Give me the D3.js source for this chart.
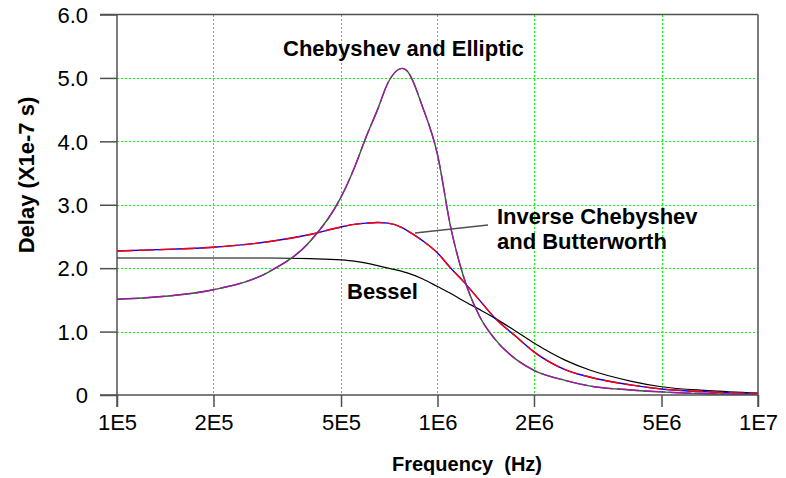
<!DOCTYPE html>
<html>
<head>
<meta charset="utf-8">
<script src="https://cdn.jsdelivr.net/npm/d3@7"></script>
<style>
body { margin: 0; background: #fff; }
svg { display: block; }
text { font-family: "Liberation Sans", Arial, sans-serif; fill: #000; }
</style>
</head>
<body>
<svg width="786" height="478"></svg>
<script>
// frequencies (Hz) shared by all curves
var freqs = [1e5, 1.5e5, 2e5, 3e5, 4e5, 5e5, 5.5e5, 6e5, 6.5e5, 7e5, 7.75e5, 8e5, 9e5, 1e6,
             1.1e6, 1.2e6, 1.35e6, 1.5e6, 1.75e6, 2e6, 2.5e6, 3e6, 4e6, 5e6, 7e6, 1e7];

// delay in units of 1e-7 s
var chebyshev = [1.51, 1.57, 1.66, 1.95, 2.42, 3.12, 3.58, 4.08, 4.50, 4.92, 5.15, 5.12, 4.53, 3.79,
                 2.64, 1.90, 1.25, 0.90, 0.57, 0.39, 0.23, 0.14, 0.08, 0.05, 0.02, 0.01];
var elliptic = [1.51, 1.57, 1.66, 1.95, 2.42, 3.12, 3.58, 4.08, 4.50, 4.92, 5.15, 5.12, 4.53, 3.79,
                2.64, 1.90, 1.25, 0.90, 0.57, 0.39, 0.23, 0.14, 0.08, 0.05, 0.02, 0.01];
var invChebyshev = [2.27, 2.30, 2.33, 2.42, 2.53, 2.65, 2.69, 2.71, 2.72, 2.71, 2.64, 2.60, 2.43, 2.24,
                    2.00, 1.80, 1.50, 1.23, 0.93, 0.68, 0.40, 0.28, 0.16, 0.095, 0.05, 0.025];
var butterworth = [2.27, 2.30, 2.33, 2.42, 2.53, 2.65, 2.69, 2.71, 2.72, 2.71, 2.64, 2.60, 2.43, 2.24,
                   2.00, 1.80, 1.50, 1.23, 0.93, 0.68, 0.40, 0.28, 0.16, 0.095, 0.05, 0.025];
var bessel = [2.16, 2.16, 2.16, 2.16, 2.15, 2.13, 2.11, 2.08, 2.04, 2.00, 1.95, 1.93, 1.83, 1.71,
              1.60, 1.49, 1.35, 1.22, 1.01, 0.82, 0.55, 0.39, 0.22, 0.13, 0.07, 0.03];

var xTicks = [1e5, 2e5, 5e5, 1e6, 2e6, 5e6, 1e7];
var xTickLabels = ["1E5", "2E5", "5E5", "1E6", "2E6", "5E6", "1E7"];
var yTicks = [0, 1, 2, 3, 4, 5, 6];
var yTickLabels = ["0", "1.0", "2.0", "3.0", "4.0", "5.0", "6.0"];

var svg = d3.select("svg"),
	plotL = 117, plotR = 758, plotT = 14.5, plotB = 395;

var x = d3.scaleLog().domain([1e5, 1e7]).range([plotL, plotR]),
	y = d3.scaleLinear().domain([0, 6]).range([plotB, plotT]);

/* grid: bright green dots */
var grid = svg.append("g")
	.attr("stroke", "#00ff00")
	.attr("stroke-width", 1)
	.attr("shape-rendering", "crispEdges")
	.attr("stroke-dasharray", "2,2");
grid.selectAll(".gx")
	.data(xTicks.slice(1, -1))
	.enter().append("line")
	.attr("x1", function(d) { return Math.round(x(d)) + 0.5; })
	.attr("x2", function(d) { return Math.round(x(d)) + 0.5; })
	.attr("y1", plotT).attr("y2", plotB);
grid.selectAll(".gy")
	.data(yTicks.slice(1, -1))
	.enter().append("line")
	.attr("y1", function(d) { return Math.round(y(d)) + 0.5; })
	.attr("y2", function(d) { return Math.round(y(d)) + 0.5; })
	.attr("x1", plotL).attr("x2", plotR);

/* curves */
var line = d3.line()
	.x(function(d, i) { return x(freqs[i]); })
	.y(function(d) { return y(d); })
	.curve(d3.curveMonotoneX);

var plot = svg.append("g").attr("fill", "none");
plot.append("path").attr("d", line(bessel))
	.attr("stroke", "#000").attr("stroke-width", 1.2);
plot.append("path").attr("d", line(butterworth))
	.attr("stroke", "#0000ff").attr("stroke-width", 1.4);
plot.append("path").attr("d", line(invChebyshev))
	.attr("stroke", "#ff0000").attr("stroke-width", 1.4)
	.attr("stroke-dasharray", "16,5");
plot.append("path").attr("d", line(elliptic))
	.attr("stroke", "#1e6b1e").attr("stroke-width", 1.4);
plot.append("path").attr("d", line(chebyshev))
	.attr("stroke", "#a01aa8").attr("stroke-width", 1.4)
	.attr("stroke-dasharray", "22,4");

/* frame and axes */
var axisColor = "#505050";
var frame = svg.append("g").attr("stroke", axisColor).attr("stroke-width", 1.5).attr("fill", "none");
frame.append("line").attr("x1", 100).attr("x2", plotR).attr("y1", plotT).attr("y2", plotT);
frame.append("line").attr("x1", 100).attr("x2", plotR).attr("y1", plotB).attr("y2", plotB);
frame.append("line").attr("x1", plotL).attr("x2", plotL).attr("y1", plotT).attr("y2", plotB + 12);
frame.append("line").attr("x1", plotR).attr("x2", plotR).attr("y1", plotT).attr("y2", plotB + 12);

var xAxis = d3.axisBottom(x)
	.tickValues(xTicks)
	.tickSize(12)
	.tickFormat(function(d, i) { return xTickLabels[i]; });
var gx = svg.append("g")
	.attr("transform", "translate(0," + plotB + ")")
	.call(xAxis);
gx.select(".domain").remove();
gx.selectAll(".tick line").attr("stroke", axisColor).attr("stroke-width", 1.5);
gx.selectAll(".tick text")
	.attr("y", 35).attr("dy", 0)
	.attr("font-size", 22)
	.attr("font-family", "Liberation Sans, Arial, sans-serif")
	.attr("fill", "#000");

var yAxis = d3.axisLeft(y)
	.tickValues(yTicks)
	.tickSize(17)
	.tickFormat(function(d, i) { return yTickLabels[i]; });
var gy = svg.append("g")
	.attr("transform", "translate(" + plotL + ",0)")
	.call(yAxis);
gy.select(".domain").remove();
gy.selectAll(".tick line").attr("stroke", axisColor).attr("stroke-width", 1.5);
gy.selectAll(".tick text")
	.attr("x", -29).attr("dy", "0.35em")
	.attr("font-size", 22)
	.attr("font-family", "Liberation Sans, Arial, sans-serif")
	.attr("fill", "#000");

/* axis titles */
svg.append("text")
	.attr("x", 467).attr("y", 471)
	.attr("text-anchor", "middle")
	.attr("font-size", 20).attr("font-weight", "bold")
	.attr("xml:space", "preserve")
	.text("Frequency  (Hz)");
svg.append("text")
	.attr("transform", "translate(34,175) rotate(-90)")
	.attr("text-anchor", "middle")
	.attr("font-size", 22).attr("font-weight", "bold")
	.text("Delay (X1e-7 s)");

/* annotations */
var notes = svg.append("g").attr("font-size", 22).attr("font-weight", "bold");
notes.append("text").attr("x", 283).attr("y", 56).text("Chebyshev and Elliptic");
notes.append("text").attr("x", 497).attr("y", 224).text("Inverse Chebyshev");
notes.append("text").attr("x", 497).attr("y", 249).text("and Butterworth");
notes.append("text").attr("x", 347).attr("y", 299).text("Bessel");
svg.append("line")
	.attr("x1", 415).attr("y1", 233).attr("x2", 488).attr("y2", 225)
	.attr("stroke", axisColor).attr("stroke-width", 1.5);
</script>
</body>
</html>
